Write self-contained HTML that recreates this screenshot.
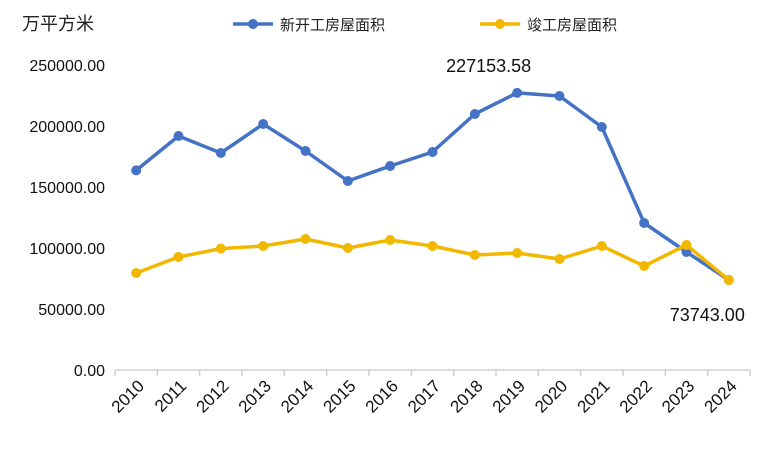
<!DOCTYPE html>
<html><head><meta charset="utf-8"><style>
body{margin:0;background:#fff;font-family:"Liberation Sans","Noto Sans CJK SC",sans-serif;}
svg text{font-family:"Liberation Sans","Noto Sans CJK SC",sans-serif;}
</style></head><body>
<svg id="c" width="768" height="444" xmlns="http://www.w3.org/2000/svg">
<text x="22" y="30" font-size="18" fill="#222">万平方米</text>
<g>
<g><line x1="233" y1="24" x2="273" y2="24" stroke="#4472C4" stroke-width="3.5"/><circle cx="253" cy="24" r="5" fill="#4472C4"/><text x="280" y="30" font-size="15" fill="#222">新开工房屋面积</text></g>
<g><line x1="480" y1="24" x2="520" y2="24" stroke="#F2B800" stroke-width="3.5"/><circle cx="500" cy="24" r="5" fill="#F2B800"/><text x="527" y="30" font-size="15" fill="#222">竣工房屋面积</text></g>
</g>
<g id="g"></g>
</svg>
<script>
const categories=["2010","2011","2012","2013","2014","2015","2016","2017","2018","2019","2020","2021","2022","2023","2024"];
const newStarts=[163647,191803,177869,201639,179508,154918,167213,178689,209836,227153.58,224590,199180,120492,96721,73770];
const completed=[79508,92623,99500,101639,107377,100000,106557,101639,94262,95902,90984,101639,85246,102459,73743];
const yTicks=[0,50000,100000,150000,200000,250000];
const ns="http://www.w3.org/2000/svg";
const g=document.getElementById('g');
const x0=115,x1=750,y0=370,yTop=65,yMax=250000;
const step=(x1-x0)/categories.length;
const X=i=>x0+step*(i+0.5);
const Y=v=>y0-(v/yMax)*(y0-yTop);
function el(t,a){const e=document.createElementNS(ns,t);for(const k in a)e.setAttribute(k,a[k]);g.appendChild(e);return e;}
yTicks.forEach(v=>{const t=el('text',{x:105,y:Y(v)+6,'text-anchor':'end','font-size':16,fill:'#111'});t.textContent=v.toFixed(2);

});
const ax=el('line',{x1:x0,y1:y0,x2:x1,y2:y0,stroke:'#d0d0d0','stroke-width':1.5});


for(let i=0;i<=categories.length;i++){const tk=el('line',{x1:x0+step*i,y1:y0,x2:x0+step*i,y2:y0+6,stroke:'#d0d0d0','stroke-width':1.5});

}
categories.forEach((c,i)=>{const t=el('text',{x:X(i)+9,y:y0+17,'text-anchor':'end','font-size':17,fill:'#111',transform:`rotate(-45 ${X(i)+9} ${y0+17})`});t.textContent=c;

});
function series(vals,color,name){
const p=el('polyline',{points:vals.map((v,i)=>X(i)+','+Y(v)).join(' '),fill:'none',stroke:color,'stroke-width':3.5,'stroke-linejoin':'round'});


vals.forEach((v,i)=>{const c=el('circle',{cx:X(i),cy:Y(v),r:5,fill:color});

});
}
series(newStarts,'#4472C4','new-starts');
series(completed,'#F2B800','completed');
const mi=newStarts.indexOf(Math.max(...newStarts));
const l1=el('text',{x:X(mi)+14,y:Y(newStarts[mi])-21,'text-anchor':'end','font-size':18,fill:'#111'});l1.textContent=newStarts[mi].toFixed(2);


const li=completed.length-1;
const l2=el('text',{x:X(li)+16,y:Y(completed[li])+41,'text-anchor':'end','font-size':18,fill:'#111'});l2.textContent=completed[li].toFixed(2);


</script>
</body></html>
